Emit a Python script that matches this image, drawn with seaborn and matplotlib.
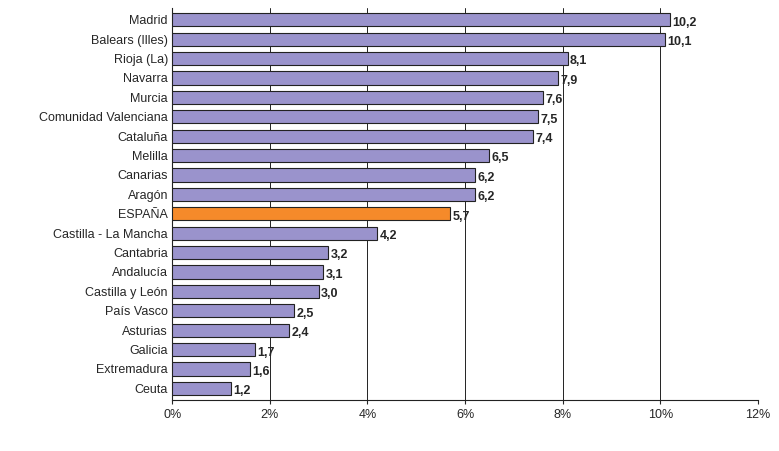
import matplotlib
matplotlib.use('Agg')
import matplotlib.pyplot as plt
import seaborn as sns
import pandas as pd

regions = ["Madrid", "Balears (Illes)", "Rioja (La)", "Navarra", "Murcia",
           "Comunidad Valenciana", "Cataluña", "Melilla", "Canarias", "Aragón",
           "ESPAÑA", "Castilla - La Mancha", "Cantabria", "Andalucía",
           "Castilla y León", "País Vasco", "Asturias", "Galicia",
           "Extremadura", "Ceuta"]
values = [10.2, 10.1, 8.1, 7.9, 7.6, 7.5, 7.4, 6.5, 6.2, 6.2,
          5.7, 4.2, 3.2, 3.1, 3.0, 2.5, 2.4, 1.7, 1.6, 1.2]

df = pd.DataFrame({"region": regions, "value": values})
palette = ["#f58a2a" if r == "ESPAÑA" else "#9a93cc" for r in regions]

sns.set_style("white")
plt.rcParams['font.family'] = ['Liberation Sans', 'DejaVu Sans']

fig = plt.figure(figsize=(7.79, 4.51), dpi=100)
ax = fig.add_axes([0.221, 0.113, 0.752, 0.869])
sns.barplot(data=df, x="value", y="region", hue="region", palette=palette,
            legend=False, width=0.68, saturation=1, edgecolor="#222222",
            linewidth=0.8, zorder=3, ax=ax)

for i, v in enumerate(values):
    ax.text(v + 0.05, i + 0.15, f"{v:.1f}".replace(".", ","), fontsize=9,
            fontweight="bold", va="center", ha="left", zorder=4)

ax.set_xlim(0, 12)
ax.set_ylim(19.6, -0.6)
ax.set_xticks(range(0, 13, 2))
ax.set_xticklabels([f"{t}%" for t in range(0, 13, 2)], fontsize=9)
ax.tick_params(axis="y", labelsize=9, length=0, pad=3)
ax.tick_params(axis="x", length=3, direction="out", bottom=True)
ax.set_xlabel("")
ax.set_ylabel("")
ax.grid(axis="x", color="#222222", linewidth=0.7, zorder=0)
for s in ["top", "right"]:
    ax.spines[s].set_visible(False)
for s in ["left", "bottom"]:
    ax.spines[s].set_color("#222222")
    ax.spines[s].set_linewidth(0.8)

fig.savefig("out.png", dpi=100)
